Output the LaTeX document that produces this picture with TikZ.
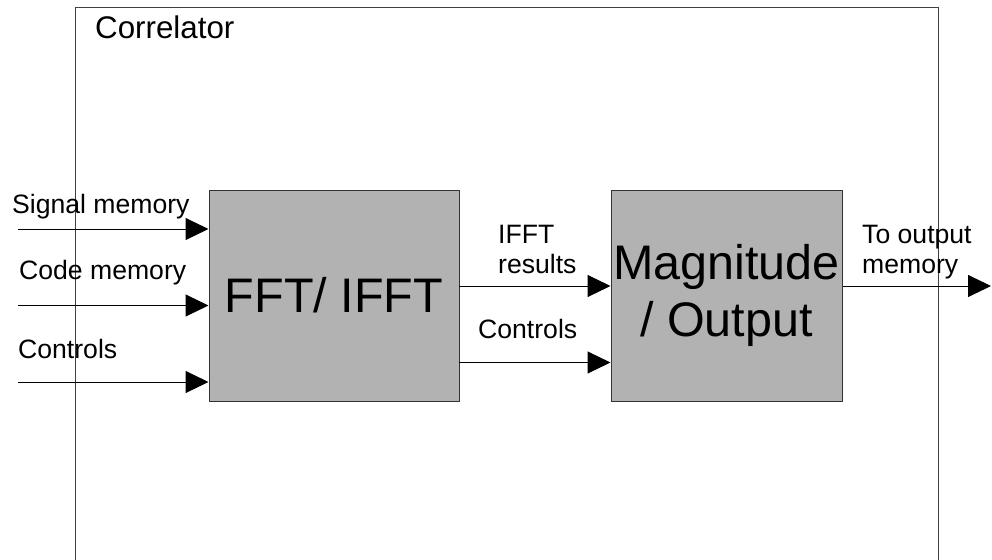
\documentclass[tikz,border=0pt]{standalone}
\usepackage{fontspec}
\setmainfont{Liberation Sans}
\usetikzlibrary{arrows.meta}
\begin{document}
\begin{tikzpicture}[x=1pt,y=-1pt,
  box/.style={draw=black!80, fill=black!30, line width=1pt, inner sep=0pt, align=center, font=\fontsize{48.5}{57}\selectfont},
  arr/.style={draw=black, line width=1pt, -{Triangle[length=23pt,width=22pt]}},
  lbl/.style={inner sep=0pt, font=\fontsize{26.6}{30}\selectfont, anchor=base west},
  frame/.style={draw=black!75, line width=1pt}]
\useasboundingbox (0,0) rectangle (992,559);
\clip (0,0) rectangle (992,559);
\draw[frame] (75,575) -- (75,8) -- (938,8) -- (938,575);
\node[inner sep=0pt, anchor=base west, font=\fontsize{31.3}{35}\selectfont] (title) at (95,39) {Correlator};
\node[box, minimum width=250pt, minimum height=211pt] (fft) at (334,295.5) {FFT/ IFFT};
\node[box, minimum width=231pt, minimum height=211pt] (mag) at (726.5,295.5) {Magnitude\\/ Output};
% inputs
\coordinate (s1) at (18,229);
\coordinate (s2) at (18,305.5);
\coordinate (s3) at (18,382);
\draw[arr] (s1) -- (s1 -| fft.west);
\draw[arr] (s2) -- (s2 -| fft.west);
\draw[arr] (s3) -- (s3 -| fft.west);
\node[lbl] (l1) at (12,213) {Signal memory};
\node[lbl] (l2) at (19,279) {Code memory};
\node[lbl] (l3) at (18,358) {Controls};
% between
\coordinate (m1) at (459,286);
\coordinate (m2) at (459,362.5);
\draw[arr] (m1) -- (m1 -| mag.west);
\draw[arr] (m2) -- (m2 -| mag.west);
\node[lbl] (l4) at (498,243) {IFFT};
\node[lbl] (l5) at (498,273) {results};
\node[lbl] (l6) at (478,338) {Controls};
% output
\coordinate (oe) at (991,286);
\draw[arr] (oe -| mag.east) -- (oe);
\node[lbl] (l7) at (862,243) {To output};
\node[lbl] (l8) at (862,273) {memory};
\end{tikzpicture}
\end{document}
